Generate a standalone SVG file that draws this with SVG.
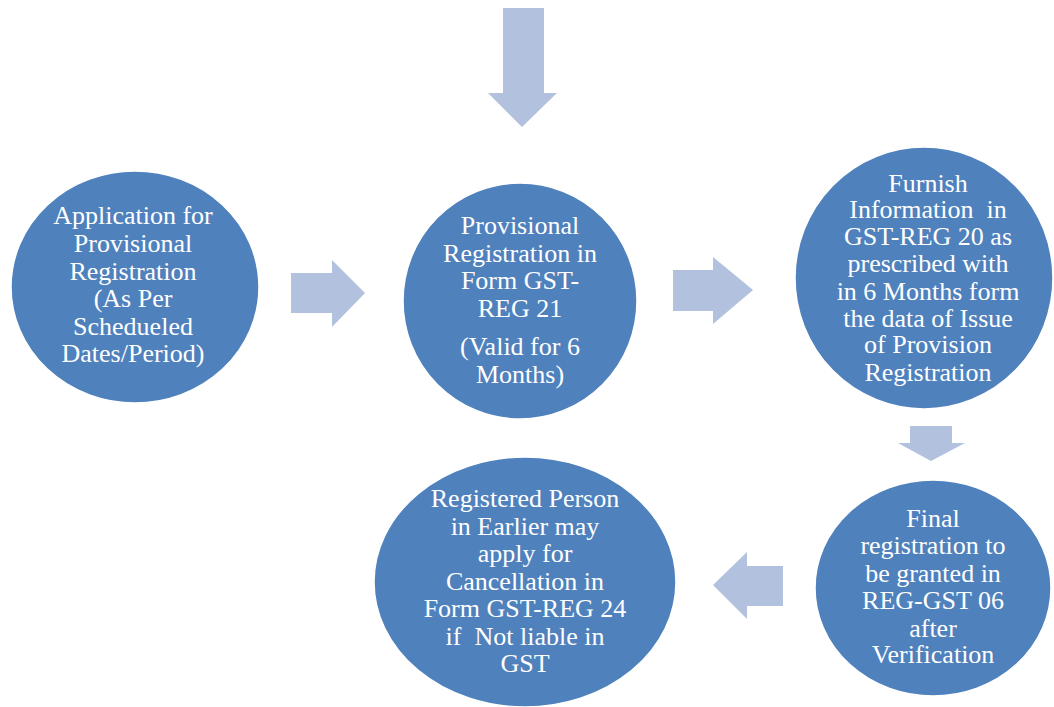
<svg xmlns="http://www.w3.org/2000/svg" width="1054" height="707" viewBox="0 0 1054 707">
<style>
.node{fill:#4F81BD;stroke:#ffffff;stroke-width:1.5}
.arrow{fill:#B2C1DD}
text{font-family:"Liberation Serif","Times New Roman",serif;font-size:26px;fill:#ffffff;text-anchor:middle;white-space:pre}
</style>
<rect width="1054" height="707" fill="#ffffff"/>
<g id="connectors">
<polygon class="arrow" points="503,8 544,8 544,93 557,93 522,127 488,93 503,93"/>
<polygon class="arrow" points="291,273 332,273 332,260 365,293 332,327 332,313 291,313"/>
<polygon class="arrow" points="673,270 713,270 713,257 753,290 713,324 713,311 673,311"/>
<polygon class="arrow" points="910,426 952,426 952,443 965,443 931,461 898,443 910,443"/>
<polygon class="arrow" points="783,566 747,566 747,552 713,585 747,619 747,606 783,606"/>
</g>
<g id="node1">
<ellipse class="node" cx="135" cy="287" rx="124" ry="116"/>
<text x="133" y="224">Application for</text>
<text x="133" y="252">Provisional</text>
<text x="133" y="280">Registration</text>
<text x="133" y="307">(As Per</text>
<text x="133" y="335">Schedueled</text>
<text x="133" y="362">Dates/Period)</text>
</g>
<g id="node2">
<ellipse class="node" cx="520" cy="301" rx="117" ry="118"/>
<text x="520" y="234">Provisional</text>
<text x="520" y="262">Registration in</text>
<text x="520" y="289">Form GST-</text>
<text x="520" y="317">REG 21</text>
<text x="520" y="355">(Valid for 6</text>
<text x="520" y="383">Months)</text>
</g>
<g id="node3">
<ellipse class="node" cx="924" cy="278" rx="129" ry="131"/>
<text x="928" y="192">Furnish</text>
<text x="928" y="218">Information  in</text>
<text x="928" y="245">GST-REG 20 as</text>
<text x="928" y="272">prescribed with</text>
<text x="928" y="300">in 6 Months form</text>
<text x="928" y="327">the data of Issue</text>
<text x="928" y="353">of Provision</text>
<text x="928" y="381">Registration</text>
</g>
<g id="node4">
<ellipse class="node" cx="525" cy="582" rx="151" ry="125"/>
<text x="525" y="507">Registered Person</text>
<text x="525" y="535">in Earlier may</text>
<text x="525" y="562">apply for</text>
<text x="525" y="590">Cancellation in</text>
<text x="525" y="617">Form GST-REG 24</text>
<text x="525" y="645">if  Not liable in</text>
<text x="525" y="672">GST</text>
</g>
<g id="node5">
<ellipse class="node" cx="933" cy="588" rx="118" ry="108"/>
<text x="933" y="527">Final</text>
<text x="933" y="554">registration to</text>
<text x="933" y="582">be granted in</text>
<text x="933" y="609">REG-GST 06</text>
<text x="933" y="637">after</text>
<text x="933" y="663">Verification</text>
</g>
</svg>
